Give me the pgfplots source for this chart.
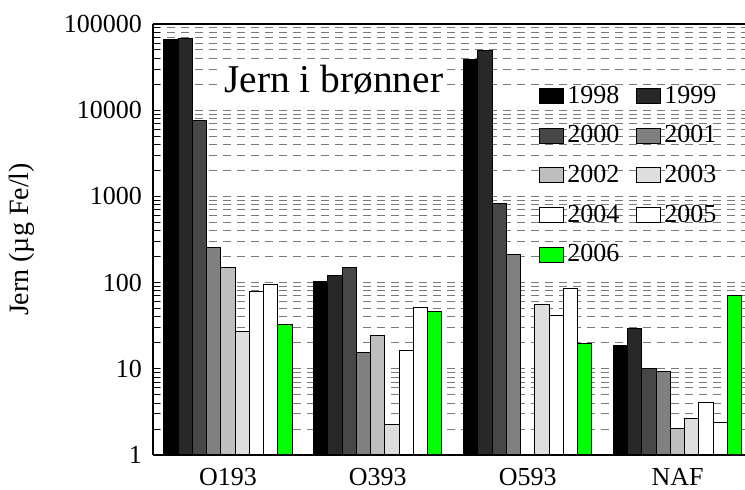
\documentclass[border=0pt]{standalone}
\usepackage{fontspec}
\setmainfont{Liberation Serif}
\usepackage{pgfplots}
\pgfplotsset{compat=1.18}
\definecolor{c1998}{HTML}{000000}
\definecolor{c1999}{HTML}{282828}
\definecolor{c2000}{HTML}{474747}
\definecolor{c2001}{HTML}{808080}
\definecolor{c2002}{HTML}{BEBEBE}
\definecolor{c2003}{HTML}{DEDEDE}
\definecolor{c2004}{HTML}{FFFFFF}
\definecolor{c2005}{HTML}{FFFFFF}
\definecolor{c2006}{HTML}{00FF00}
\definecolor{gridc}{HTML}{7A7A7A}
\begin{document}
\begin{tikzpicture}
\begin{axis}[
  at={(0,0)}, anchor=south west,
  width=296pt, height=215.5pt, scale only axis,
  ymode=log, ymin=1, ymax=100000,
  xmin=-0.5, xmax=3.45,
  axis x line*=box, axis y line*=left,
  axis line style={line width=0.7pt},
  ybar, bar width=0.095,
  xtick={0,1,2,3}, xticklabels={O193,O393,O593,NAF},
  xtick style={draw=none},
  ytick={1,10,100,1000,10000,100000},
  yticklabels={1,10,100,1000,10000,100000},
  minor ytick={2,3,4,5,6,7,8,9,20,30,40,50,60,70,80,90,200,300,400,500,600,700,800,900,2000,3000,4000,5000,6000,7000,8000,9000,20000,30000,40000,50000,60000,70000,80000,90000},
  tick style={black, line width=0.5pt},
  major tick length=3.5pt, minor tick length=3.5pt,
  ymajorgrids, yminorgrids,
  major grid style={gridc, dash pattern=on 4pt off 3pt, line width=0.5pt},
  minor grid style={gridc, dash pattern=on 4pt off 3pt, line width=0.5pt},
  ticklabel style={font=\fontsize{13}{14}\selectfont},
  yticklabel style={xshift=-2pt},
  xticklabel style={yshift=0.5pt},
  ylabel={Jern (µg Fe/l)},
  every axis y label/.style={at={(axis description cs:-0.2213,0.5)}, rotate=90, anchor=center, font=\fontsize{14}{16}\selectfont},
  legend columns=2,
  legend cell align=left,
  legend style={draw=none, fill=none, at={(rel axis cs:0.652,0.8646)}, anchor=north west,
    font=\fontsize{13}{14}\selectfont, inner sep=0pt, row sep=6.7pt,
    nodes={inner sep=1.5pt},
    /tikz/every even column/.append style={column sep=7pt}},
  legend image code/.code={\draw[#1,draw=black,line width=0.5pt] (0pt,-3.75pt) rectangle (12pt,3.75pt);},
]
\addplot[fill=c1998, draw=black, line width=0.5pt, bar shift=-0.38] coordinates {(0,66500) (1,102) (2,38900) (3,18.4)};
\addplot[fill=c1999, draw=black, line width=0.5pt, bar shift=-0.285] coordinates {(0,67000) (1,121) (2,49900) (3,29.5)};
\addplot[fill=c2000, draw=black, line width=0.5pt, bar shift=-0.19] coordinates {(0,7500) (1,150) (2,823) (3,10.1)};
\addplot[fill=c2001, draw=black, line width=0.5pt, bar shift=-0.095] coordinates {(0,252) (1,15.3) (2,211) (3,9.2)};
\addplot[fill=c2002, draw=black, line width=0.5pt, bar shift=0] coordinates {(0,149) (1,24.5) (3,2.04)};
\addplot[fill=c2003, draw=black, line width=0.5pt, bar shift=0.095] coordinates {(0,27.2) (1,2.27) (2,56) (3,2.67)};
\addplot[fill=c2004, draw=black, line width=0.5pt, bar shift=0.19] coordinates {(0,79) (1,16.2) (2,41.3) (3,4.04)};
\addplot[fill=c2005, draw=black, line width=0.5pt, bar shift=0.285] coordinates {(0,94) (1,51) (2,84.3) (3,2.37)};
\addplot[fill=c2006, draw=black, line width=0.5pt, bar shift=0.38] coordinates {(0,32.8) (1,45.6) (2,19.8) (3,70)};
\legend{1998,1999,2000,2001,2002,2003,2004,2005,2006}
\node[anchor=base west, fill=white, inner sep=1.5pt, font=\fontsize{19.7}{22}\selectfont] at (rel axis cs:0.115,0.842) {Jern i brønner};
\end{axis}
\pgfresetboundingbox
\path[use as bounding box] (-76.5pt,-17.5pt) rectangle (296pt,227.5pt);
\end{tikzpicture}
\end{document}
